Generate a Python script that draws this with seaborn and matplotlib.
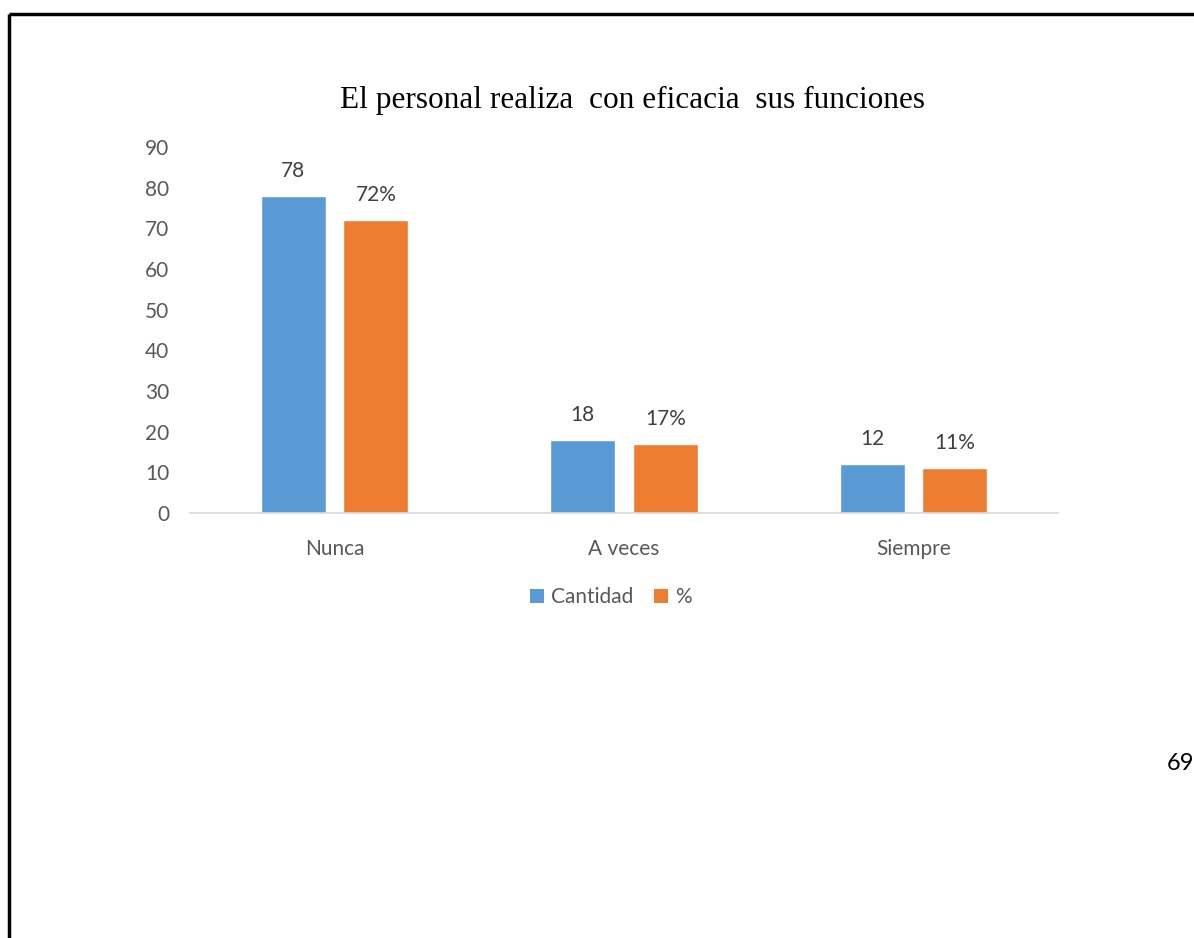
import matplotlib
matplotlib.use("Agg")
import matplotlib.pyplot as plt
import seaborn as sns
import pandas as pd
from matplotlib.lines import Line2D
from matplotlib.patches import Patch

categories = ["Nunca", "A veces", "Siempre"]
cantidad = [78, 18, 12]
porcentaje = [72, 17, 11]
series_names = ["Cantidad", "%"]
yticks = [0, 10, 20, 30, 40, 50, 60, 70, 80, 90]
title = "El personal realiza  con eficacia  sus funciones"
page_number = "69"

blue = "#5B9BD5"
orange = "#ED7D31"
text_gray = "#595959"
label_gray = "#404040"

sns.set_theme(style="white")
plt.rcParams["font.family"] = ["Lato", "DejaVu Sans"]

df = pd.DataFrame({
    "categoria": categories * 2,
    "serie": [series_names[0]] * 3 + [series_names[1]] * 3,
    "valor": cantidad + porcentaje,
})

fig = plt.figure(figsize=(11.94, 9.38), dpi=100)
ax = fig.add_axes([190 / 1194, 1 - 513 / 938, (1058 - 190) / 1194, (513 - 147) / 938])

sns.barplot(data=df, x="categoria", y="valor", hue="serie", order=categories,
            hue_order=series_names, palette=[blue, orange], width=0.57, gap=0.21,
            saturation=1, errorbar=None, legend=False, ax=ax)

ax.set_xlim(-0.5, 2.5)
ax.set_ylim(0, 90)
ax.set_yticks(yticks)
ax.set_xlabel("")
ax.set_ylabel("")
for side in ["top", "right", "left"]:
    ax.spines[side].set_visible(False)
ax.spines["bottom"].set_color("#d9d9d9")
ax.spines["bottom"].set_linewidth(1.2)
ax.tick_params(axis="both", length=0, labelsize=15, colors=text_gray)
ax.tick_params(axis="x", pad=19)
ax.tick_params(axis="y", pad=15)

fmts = ["{:.0f}", "{:.0f}%"]
for cont, fmt in zip(ax.containers, fmts):
    ax.bar_label(cont, fmt=fmt, padding=11, fontsize=15, color=label_gray)

fig.text(633 / 1194, 1 - 100 / 938, title, ha="center", va="center",
         fontsize=22.5, family="Liberation Serif", color="#000000")

handles = [Patch(facecolor=blue, edgecolor="none"), Patch(facecolor=orange, edgecolor="none")]
fig.legend(handles, series_names, loc="center", bbox_to_anchor=(611 / 1194, 1 - 597 / 938),
           ncol=2, frameon=False, fontsize=15, handlelength=0.65, handleheight=0.65,
           handletextpad=0.35, columnspacing=1.0, labelcolor=text_gray)

fig.text(1180 / 1194, 1 - 763 / 938, page_number, ha="center", va="center",
         fontsize=17, color="#000000")

# page frame: top and left rules
fig.add_artist(Line2D([9 / 1194, 1.0], [1 - 14 / 938, 1 - 14 / 938], color="black", lw=2.5,
                      transform=fig.transFigure, solid_capstyle="butt"))
fig.add_artist(Line2D([9 / 1194, 9 / 1194], [0, 1 - 14 / 938], color="black", lw=2.5,
                      transform=fig.transFigure, solid_capstyle="butt"))

fig.savefig("out.png", dpi=100)
